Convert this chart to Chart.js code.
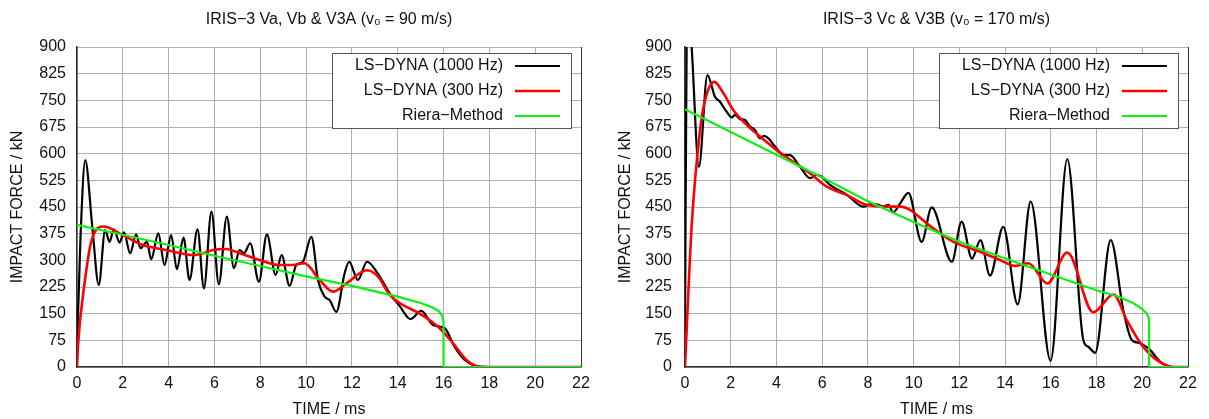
<!DOCTYPE html>
<html>
<head>
<meta charset="utf-8">
<title>IRIS-3 impact force</title>
<script src="https://cdn.jsdelivr.net/npm/chart.js@4.4.0/dist/chart.umd.min.js"></script>
<style>
  html, body { margin: 0; padding: 0; background: #fff; }
  #wrap { position: relative; width: 1209px; height: 419px; }
  #left { position: absolute; left: 0; top: 0; }
  #right { position: absolute; left: 605px; top: 0; }
</style>
</head>
<body>
<div id="wrap">
  <canvas id="left" width="605" height="419"></canvas>
  <canvas id="right" width="604" height="419"></canvas>
</div>
<script>
// time axis ticks (ms) and force axis ticks (kN)
const timeTicks = [0, 2, 4, 6, 8, 10, 12, 14, 16, 18, 20, 22];
const forceTicks = [0, 75, 150, 225, 300, 375, 450, 525, 600, 675, 750, 825, 900];

const seriesNames = ['LS\u2212DYNA (1000 Hz)', 'LS\u2212DYNA (300 Hz)', 'Riera\u2212Method'];

// IRIS-3 Va, Vb & V3A, v0 = 90 m/s
const vaRawT = [0, 0.15, 0.36, 0.66, 0.95, 1.23, 1.42, 1.61, 1.86, 2.05, 2.32, 2.58, 2.77, 3.05, 3.24, 3.55, 3.82, 4.11, 4.36, 4.65, 4.91, 5.26, 5.54, 5.87, 6.19, 6.54, 6.85, 7.10, 7.29, 7.56, 7.94, 8.29, 8.67, 8.93, 9.28, 9.57, 9.86, 10.23, 10.52, 10.81, 11.03, 11.32, 11.68, 11.88, 12.26, 12.66, 13.14, 13.65, 14.08, 14.55, 15.03, 15.54, 16.05, 16.48, 16.92, 17.58, 18, 22];
const vaRawF = [48, 360, 582, 400, 231, 385, 352, 387, 350, 379, 320, 373, 334, 352, 303, 376, 287, 371, 275, 364, 245, 387, 221, 437, 233, 423, 278, 329, 320, 348, 240, 373, 259, 315, 228, 287, 296, 366, 245, 198, 188, 155, 263, 296, 245, 296, 262, 207, 172, 135, 158, 118, 109, 57, 20, 1, 0, 0];

const vaFiltT = [0, 0.04, 0.33, 0.62, 1.15, 2.0, 2.87, 3.9, 5.06, 5.5, 5.93, 6.51, 7.1, 7.97, 8.84, 9.43, 9.93, 10.59, 11.17, 11.76, 12.66, 13.14, 13.65, 14.08, 14.96, 15.83, 16.41, 17.0, 17.65, 22];
const vaFiltF = [0, 57, 235, 352, 395, 371, 343, 329, 315, 320, 329, 332, 320, 301, 287, 287, 292, 245, 212, 235, 272, 254, 203, 180, 150, 109, 67, 20, 0, 0];

const vaRieraT = [0, 2, 4, 6, 8, 10, 12, 14, 15, 15.5, 15.8, 15.95, 16.0, 16.0, 22];
const vaRieraF = [400, 372, 343, 313, 284, 255, 228, 198, 180, 168, 157, 143, 125, 0, 0];

// IRIS-3 Vc & V3B, v0 = 170 m/s
const vcRawT = [0, 0.07, 0.18, 0.29, 0.61, 0.98, 1.31, 1.53, 1.82, 2.04, 2.19, 2.41, 2.62, 2.84, 3.06, 3.28, 3.45, 3.65, 3.94, 4.3, 4.59, 5.03, 5.47, 5.76, 5.98, 6.34, 7.07, 7.8, 8.15, 8.46, 8.67, 8.89, 9.11, 9.41, 9.77, 10.35, 10.79, 11.67, 12.1, 12.55, 12.92, 13.34, 13.92, 14.55, 15.12, 15.99, 16.72, 17.42, 17.64, 17.94, 18.62, 19.17, 19.54, 19.9, 20.34, 20.78, 21.36, 22];
const vcRawF = [96, 900, 990, 900, 563, 821, 760, 746, 718, 702, 709, 697, 695, 676, 667, 643, 650, 643, 620, 596, 596, 563, 531, 540, 535, 512, 485, 451, 458, 456, 451, 456, 435, 460, 490, 352, 449, 296, 409, 305, 357, 257, 394, 176, 465, 18, 585, 76, 57, 40, 357, 160, 76, 67, 48, 15, 0, 0];

const vcFiltT = [0, 0.29, 0.66, 0.88, 1.28, 1.68, 2.11, 2.7, 3.28, 4.01, 4.74, 5.47, 6.2, 7.07, 7.95, 8.82, 9.41, 9.84, 10.57, 11.15, 11.74, 12.9, 13.78, 14.45, 15.02, 15.85, 16.72, 17.86, 18.74, 19.32, 19.98, 20.63, 21.36, 22];
const vcFiltF = [0, 395, 667, 751, 802, 770, 723, 681, 648, 610, 577, 545, 507, 484, 456, 451, 451, 442, 404, 376, 352, 324, 301, 284, 292, 235, 322, 154, 204, 132, 62, 20, 0, 0];

const vcRieraT = [0, 2, 4, 6, 8, 10, 12, 14, 16, 18, 19, 19.6, 20, 20.2, 20.3, 20.3, 22];
const vcRieraF = [725, 661, 597, 533, 466, 408, 352, 305, 260, 216, 197, 180, 163, 150, 135, 0, 0];

const pts = (t, f) => t.map((x, i) => ({ x: x, y: f[i] }));

// boxed legend in the upper right corner of the plot area
const legendBox = {
  id: 'legendBox',
  afterDatasetsDraw(chart) {
    const ctx = chart.ctx;
    const area = chart.chartArea;
    const w = 239, h = 75;
    const right = area.right - 10;
    const top = area.top + 6;
    ctx.save();
    ctx.fillStyle = '#fff';
    ctx.fillRect(right - w, top, w, h);
    ctx.strokeStyle = '#555';
    ctx.lineWidth = 1;
    ctx.strokeRect(Math.round(right - w) + 0.5, Math.round(top) + 0.5, w, h);
    ctx.font = '16px "Liberation Sans", Arial, sans-serif';
    ctx.textAlign = 'right';
    ctx.textBaseline = 'middle';
    chart.data.datasets.forEach((ds, i) => {
      const y = top + 13 + i * 25;
      ctx.fillStyle = '#111';
      ctx.fillText(ds.label, right - 68, y);
      ctx.strokeStyle = ds.borderColor;
      ctx.lineWidth = ds.borderWidth;
      ctx.beginPath();
      ctx.moveTo(right - 56, y);
      ctx.lineTo(right - 11, y);
      ctx.stroke();
    });
    ctx.restore();
  }
};

const font = { family: '"Liberation Sans", Arial, sans-serif', size: 16 };

function makeChart(id, title, raw, filt, riera, yWidth, yPad, yTitlePad, padRight) {
  return new Chart(document.getElementById(id), {
    type: 'line',
    data: {
      datasets: [
        { label: seriesNames[0], data: raw, borderColor: '#000', borderWidth: 2.2,
          cubicInterpolationMode: 'monotone', pointRadius: 0, order: 2 },
        { label: seriesNames[1], data: filt, borderColor: '#ff0000', borderWidth: 2.6,
          cubicInterpolationMode: 'monotone', pointRadius: 0, order: 1 },
        { label: seriesNames[2], data: riera, borderColor: '#11ee11', borderWidth: 2.2,
          tension: 0, pointRadius: 0, order: 0 }
      ]
    },
    options: {
      responsive: false,
      animation: false,
      devicePixelRatio: 1,
      layout: { padding: { left: 0, right: padRight, top: 0, bottom: 0 } },
      plugins: {
        legend: { display: false },
        tooltip: { enabled: false },
        title: {
          display: true,
          text: title,
          fullSize: false,
          color: '#111',
          font: { family: '"Liberation Sans Narrow", "Liberation Sans", Arial, sans-serif', size: 16, weight: 'normal' },
          padding: { top: 10, bottom: 17.8 }
        }
      },
      scales: {
        x: {
          type: 'linear',
          min: timeTicks[0],
          max: timeTicks[timeTicks.length - 1],
          afterBuildTicks: (scale) => { scale.ticks = timeTicks.map(v => ({ value: v })); },
          ticks: { color: '#111', font: font, padding: 7, maxRotation: 0 },
          grid: {
            drawTicks: false,
            lineWidth: 1,
            color: (c) => c.tick && c.tick.value === 22 ? '#333' : '#b0b0b0'
          },
          border: { color: '#333', width: 1.5 },
          title: { display: true, text: 'TIME / ms', color: '#111', font: font, padding: { top: 0, bottom: 0 } },
          afterFit: (scale) => { scale.height = 52; }
        },
        y: {
          min: forceTicks[0],
          max: forceTicks[forceTicks.length - 1],
          afterBuildTicks: (scale) => { scale.ticks = forceTicks.map(v => ({ value: v })); },
          ticks: { color: '#111', font: font, padding: yPad },
          grid: { drawTicks: false, lineWidth: 1, color: '#b0b0b0' },
          border: { color: '#333', width: 1.5 },
          title: { display: true, text: 'IMPACT FORCE / kN', color: '#111', font: font, padding: { top: yTitlePad, bottom: 0 } },
          afterFit: (scale) => { scale.width = yWidth; }
        }
      }
    },
    plugins: [legendBox]
  });
}

makeChart('left', 'IRIS\u22123 Va, Vb & V3A (v\u2080 = 90 m/s)',
  pts(vaRawT, vaRawF), pts(vaFiltT, vaFiltF), pts(vaRieraT, vaRieraF), 77, 11, 8, 24);
makeChart('right', 'IRIS\u22123 Vc & V3B (v\u2080 = 170 m/s)',
  pts(vcRawT, vcRawF), pts(vcFiltT, vcFiltF), pts(vcRieraT, vcRieraF), 80, 13, 11, 21);
</script>
</body>
</html>
